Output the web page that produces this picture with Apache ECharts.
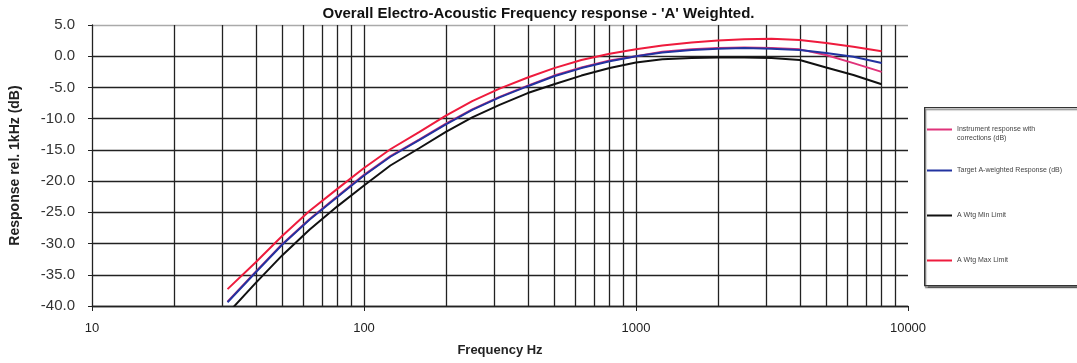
<!DOCTYPE html>
<html>
<head>
<meta charset="utf-8">
<script src="https://cdn.jsdelivr.net/npm/echarts@6/dist/echarts.min.js"></script>
<style>
html,body{margin:0;padding:0;background:#fff;}
#chart{width:1077px;height:363px;}
</style>
</head>
<body>
<div id="chart"></div>
<script>
// 1/3-octave band centre frequencies (Hz)
const freqs = [31.5,40,50,63,80,100,125,160,200,250,315,400,500,630,800,1000,1250,1600,2000,2500,3150,4000,5000,6300,8000];
// Series values (dB rel. 1 kHz)
const instrument = [-39.3,-34.5,-30.1,-26.1,-22.4,-19.0,-16.0,-13.3,-10.8,-8.5,-6.5,-4.7,-3.1,-1.8,-0.7,0.0,0.7,1.1,1.3,1.4,1.3,1.1,0.2,-1.1,-2.5];
const target     = [-39.4,-34.6,-30.2,-26.2,-22.5,-19.1,-16.1,-13.4,-10.9,-8.6,-6.6,-4.8,-3.2,-1.9,-0.8,0.0,0.6,1.0,1.2,1.3,1.2,1.0,0.5,-0.1,-1.1];
const minLimit   = [-41.2,-36.3,-31.9,-27.8,-24.0,-20.7,-17.5,-14.7,-12.1,-9.8,-7.8,-5.9,-4.5,-3.1,-1.9,-1.0,-0.5,-0.3,-0.2,-0.2,-0.3,-0.6,-1.8,-3.0,-4.5];
const maxLimit   = [-37.3,-33.0,-28.8,-24.8,-21.2,-17.9,-14.9,-12.1,-9.5,-7.2,-5.2,-3.4,-1.9,-0.6,0.4,1.1,1.7,2.2,2.5,2.7,2.8,2.6,2.1,1.5,0.8];
// Axis ticks
const xTickLabels = [10,100,1000,10000];
const xGridLines = [20,30,40,50,60,70,80,90,100,200,300,400,500,600,700,800,900,1000,2000,3000,4000,5000,6000,7000,8000,9000];
const yMin = -40, yMax = 5, yStep = 5;
const seriesNames = ['Instrument response with corrections (dB)','Target A-weighted Response (dB)','A Wtg Min Limit','A Wtg Max Limit'];

const pair = arr => freqs.map((f,i)=>[f,arr[i]]);
const FONT = '"Liberation Sans", Arial, sans-serif';
const colors = ['#e0337a','#2233a0','#111111','#ee1b3d'];
const vals = [instrument,target,minLimit,maxLimit];

const chart = echarts.init(document.getElementById('chart'), null, {renderer:'canvas'});

const legendTops = [125,166,211,256];
const legendBase = {
  left: 927, orient:'vertical', itemWidth: 25, itemHeight: 2, itemGap: 3,
  icon:'rect', selectedMode:false, padding:0,
  textStyle:{fontFamily:FONT,fontSize:7,color:'#444',lineHeight:9}
};

const option = {
  animation:false,
  backgroundColor:'#fff',
  title:{
    text:"Overall Electro-Acoustic Frequency response - 'A' Weighted.",
    left:'center', top:6, padding:0,
    textStyle:{fontFamily:FONT,fontSize:15,fontWeight:'bold',color:'#111'}
  },
  graphic:[{
    type:'rect', left:924, top:107, z:-1,
    shape:{width:170,height:178},
    style:{fill:'#fff',stroke:'#333',lineWidth:1.3,shadowColor:'rgba(0,0,0,0.45)',shadowOffsetY:2,shadowOffsetX:1,shadowBlur:1}
  }],
  legend: seriesNames.map((n,i)=>Object.assign({}, legendBase, {
    top: legendTops[i], data:[n],
    formatter: name => name === seriesNames[0] ? 'Instrument response with\ncorrections (dB)' : name
  }, i===0 ? {icon:'path://M0,3.5H25V5.5H0Z M0,0L0.01,0L0,0.01Z M0,18L0.01,18L0,17.99Z', itemHeight:18} : {})),
  grid:{left:92,right:169,top:25,bottom:57,containLabel:false},
  xAxis:{
    type:'log', logBase:10, min:10, max:10000,
    name:'Frequency Hz', nameLocation:'middle', nameGap:38,
    nameTextStyle:{fontFamily:FONT,fontSize:13,fontWeight:'bold',color:'#222'},
    axisLine:{show:true,onZero:false,lineStyle:{color:'#222',width:1.3}},
    axisTick:{show:true,length:5,lineStyle:{color:'#222'}},
    axisLabel:{fontFamily:FONT,fontSize:13,color:'#222',margin:16,
      formatter:v=> xTickLabels.includes(Math.round(v)) ? String(Math.round(v)) : ''},
    splitLine:{show:false},
    minorTick:{show:false}, minorSplitLine:{show:false}
  },
  yAxis:{
    type:'value', min:yMin, max:yMax, interval:yStep,
    name:'Response rel. 1kHz (dB)', nameLocation:'middle', nameGap:70,
    nameTextStyle:{fontFamily:FONT,fontSize:14,fontWeight:'bold',color:'#222'},
    axisLine:{show:true,lineStyle:{color:'#222',width:1.3}},
    axisTick:{show:true,length:4,lineStyle:{color:'#222'}},
    axisLabel:{fontFamily:FONT,fontSize:15,color:'#333',margin:17,formatter:v=>v.toFixed(1)},
    splitLine:{show:true,lineStyle:{color:['#222','#222','#222','#222','#222','#222','#222','#222','#222','#aaa'],width:1.3}}
  },
  series:[
    {
      name:'grid', type:'line', data:[], z:1, silent:true, symbol:'none',
      markLine:{
        silent:true, symbol:['none','none'], animation:false, z:1,
        label:{show:false},
        lineStyle:{color:'#222',width:1.3,type:'solid'},
        emphasis:{disabled:true},
        data: xGridLines.map(v=>({xAxis:v}))
      }
    }
  ].concat(seriesNames.map((n,i)=>({
    name:n, type:'line', data:pair(vals[i]), symbol:'none', smooth:false,
    z:3+i, clip:true,
    lineStyle:{color:colors[i],width:2},
    itemStyle:{color:colors[i]}
  })))
};
chart.setOption(option);
</script>
</body>
</html>
